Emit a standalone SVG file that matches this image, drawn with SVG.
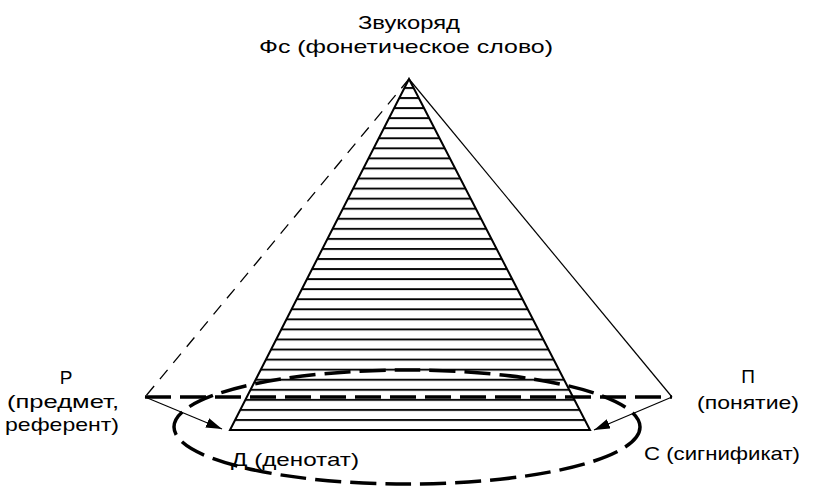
<svg xmlns="http://www.w3.org/2000/svg" width="821" height="491" viewBox="0 0 821 491">
<style>
  text { font-family: "Liberation Sans", Arial, sans-serif; font-size: 19px; fill: #000; }
  .thin { stroke: #000; stroke-width: 1.2; fill: none; }
  .thindash { stroke: #000; stroke-width: 1.3; fill: none; stroke-dasharray: 12 9; }
  .thick { stroke: #000; stroke-width: 3.5; fill: none; stroke-dasharray: 26 9; }
  .edge { stroke: #000; stroke-width: 2; fill: none; stroke-linejoin: miter; }
</style>
<defs>
  <pattern id="hatch" patternUnits="userSpaceOnUse" x="0" y="87" width="20" height="10.06">
    <line x1="0" y1="1" x2="20" y2="1" stroke="#000" stroke-width="1.9"/>
  </pattern>
  <marker id="arr" viewBox="0 0 16 10" refX="16" refY="5" markerWidth="16" markerHeight="10" markerUnits="userSpaceOnUse" orient="auto">
    <path d="M0,0 L16,5 L0,10 z" fill="#000"/>
  </marker>
</defs>

<g id="pyramid">
  <polygon points="409,79 230,430 590,430" fill="url(#hatch)"/>
  <polygon points="409,79 230,430 590,430" class="edge"/>
</g>

<g id="connectors">
  <line x1="409" y1="79" x2="145" y2="397" class="thindash"/>
  <line x1="409" y1="79" x2="672" y2="397" class="thin"/>
  <line x1="145" y1="397" x2="672" y2="397" class="thick"/>
  <line x1="145" y1="397" x2="222" y2="429" class="thin" marker-end="url(#arr)"/>
  <line x1="672" y1="397" x2="594" y2="430" class="thin" marker-end="url(#arr)"/>
  <ellipse cx="407" cy="427" rx="233" ry="57" class="thick"/>
</g>

<g id="node-fs">
  <text x="409" y="29" text-anchor="middle" textLength="102" lengthAdjust="spacingAndGlyphs">Звукоряд</text>
  <text x="406" y="53" text-anchor="middle" textLength="294" lengthAdjust="spacingAndGlyphs">Фс (фонетическое слово)</text>
</g>
<g id="node-r">
  <text x="66" y="384" text-anchor="middle">Р</text>
  <text x="63" y="408" text-anchor="middle" textLength="112" lengthAdjust="spacingAndGlyphs">(предмет,</text>
  <text x="62" y="431" text-anchor="middle" textLength="114" lengthAdjust="spacingAndGlyphs">референт)</text>
</g>
<g id="node-p">
  <text x="748" y="383" text-anchor="middle">П</text>
  <text x="748" y="409" text-anchor="middle" textLength="102" lengthAdjust="spacingAndGlyphs">(понятие)</text>
</g>
<g id="node-d">
  <text x="231" y="466" textLength="128" lengthAdjust="spacingAndGlyphs">Д (денотат)</text>
</g>
<g id="node-c">
  <text x="644" y="460" textLength="156" lengthAdjust="spacingAndGlyphs">С (сигнификат)</text>
</g>
</svg>
